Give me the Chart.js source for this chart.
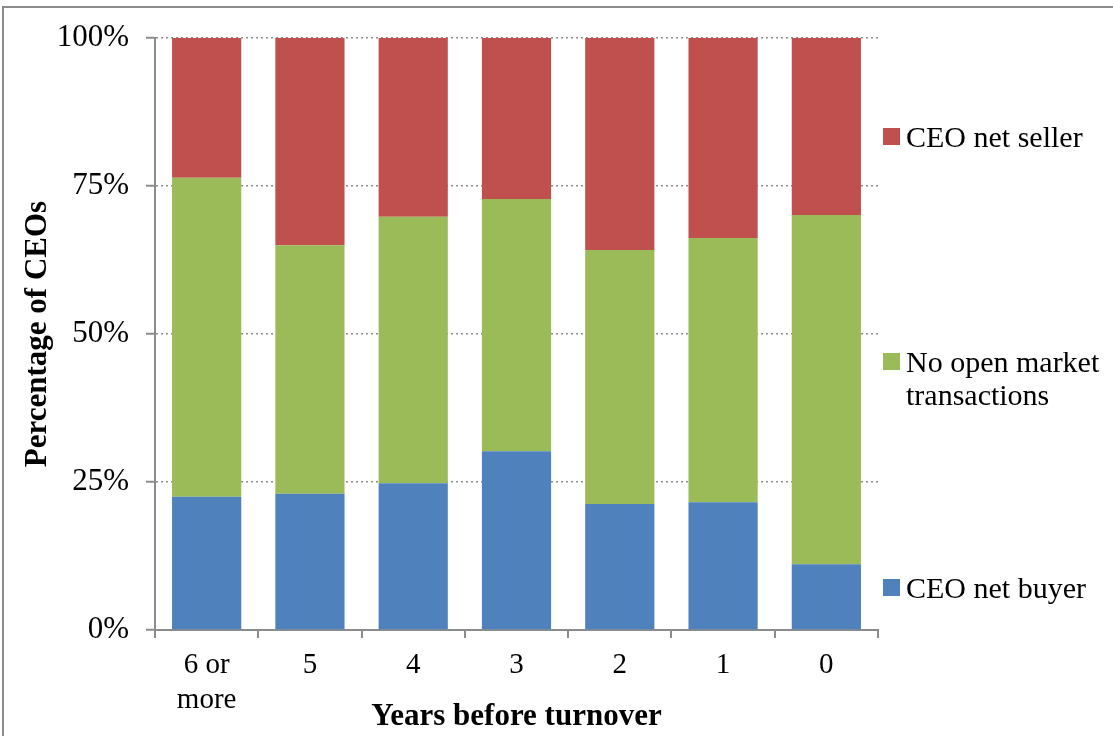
<!DOCTYPE html>
<html>
<head>
<meta charset="utf-8">
<script src="https://cdn.jsdelivr.net/npm/chart.js@4"></script>
<style>
  body { margin: 0; background: #fff; }
  #wrap { position: relative; width: 1113px; height: 736px; overflow: hidden; }
  #frame { position: absolute; left: 2px; top: 6px; width: 1200px; height: 800px; border: 2px solid #8c8c8c; box-sizing: border-box; }
  canvas { position: absolute; left: 0; top: 0; }
</style>
</head>
<body>
<div id="wrap">
  <div id="frame"></div>
  <canvas id="chart" width="1113" height="736"></canvas>
</div>
<script>
// categories and stacked shares (percent of CEOs)
const years = [['6 or', 'more'], '5', '4', '3', '2', '1', '0'];
const netBuyer = [22.5, 23.0, 24.8, 30.2, 21.3, 21.6, 11.1];
const noTrades = [53.9, 42.0, 45.0, 42.6, 42.9, 44.6, 59.0];
const netSeller = [23.6, 35.0, 30.2, 27.2, 35.8, 33.8, 29.9];
const yTicks = [0, 25, 50, 75, 100];

const serif = 'Liberation Serif';

// legend drawn on the right like the original
const legendItems = [
    { lines: ['CEO net seller'], color: '#C0504D', y: 137 },
    { lines: ['No open market', 'transactions'], color: '#9BBB59', y: 362 },
    { lines: ['CEO net buyer'], color: '#4F81BD', y: 588 }
];
const sideLegend = {
    id: 'sideLegend',
    afterDraw(chart) {
        const ctx = chart.ctx;
        ctx.save();
        ctx.font = '30px "' + serif + '"';
        ctx.textBaseline = 'middle';
        legendItems.forEach(item => {
            ctx.fillStyle = item.color;
            ctx.fillRect(883, item.y - 9, 17, 17);
            ctx.fillStyle = '#000';
            item.lines.forEach((t, i) => ctx.fillText(t, 906, item.y + 2 + i * 33));
        });
        ctx.restore();
    }
};

new Chart(document.getElementById('chart'), {
    type: 'bar',
    data: {
        labels: years,
        datasets: [{
            label: 'CEO net buyer',
            data: netBuyer,
            backgroundColor: '#4F81BD'
        }, {
            label: 'No open market transactions',
            data: noTrades,
            backgroundColor: '#9BBB59'
        }, {
            label: 'CEO net seller',
            data: netSeller,
            backgroundColor: '#C0504D'
        }]
    },
    options: {
        responsive: false,
        animation: false,
        barPercentage: 0.67,
        categoryPercentage: 1,
        layout: { padding: { top: 38, right: 235, left: 19, bottom: 0 } },
        plugins: { legend: { display: false }, tooltip: { enabled: false } },
        scales: {
            x: {
                stacked: true,
                afterFit(s) { s.height = 106; },
                border: { color: '#8c8c8c', width: 2 },
                grid: { offset: true, drawOnChartArea: false, drawTicks: true, tickLength: 8, color: '#8c8c8c', lineWidth: 2 },
                ticks: { color: '#000', font: { family: serif, size: 29 }, padding: 10, maxRotation: 0 },
                title: { display: true, text: 'Years before turnover', color: '#000', font: { family: serif, size: 31, weight: 'bold' }, padding: { top: 0, bottom: 0 } }
            },
            y: {
                stacked: true,
                min: 0,
                max: 100,
                afterFit(s) { s.width = 136; },
                afterBuildTicks(s) { s.ticks = yTicks.map(v => ({ value: v })); },
                border: { color: '#8c8c8c', width: 2, dash: [2, 3] },
                grid: {
                    color: ctx => ctx.tick && ctx.tick.value === 0 ? 'rgba(0,0,0,0)' : '#8c8c8c',
                    lineWidth: 1.5,
                    tickBorderDash: [],
                    tickColor: '#8c8c8c',
                    tickWidth: 2,
                    tickLength: 9
                },
                ticks: { color: '#000', font: { family: serif, size: 31 }, padding: 17, callback: v => v + '%' },
                title: { display: true, text: 'Percentage of CEOs', color: '#000', font: { family: serif, size: 31, weight: 'bold' }, padding: 0 }
            }
        }
    },
    plugins: [sideLegend]
});
</script>
</body>
</html>
